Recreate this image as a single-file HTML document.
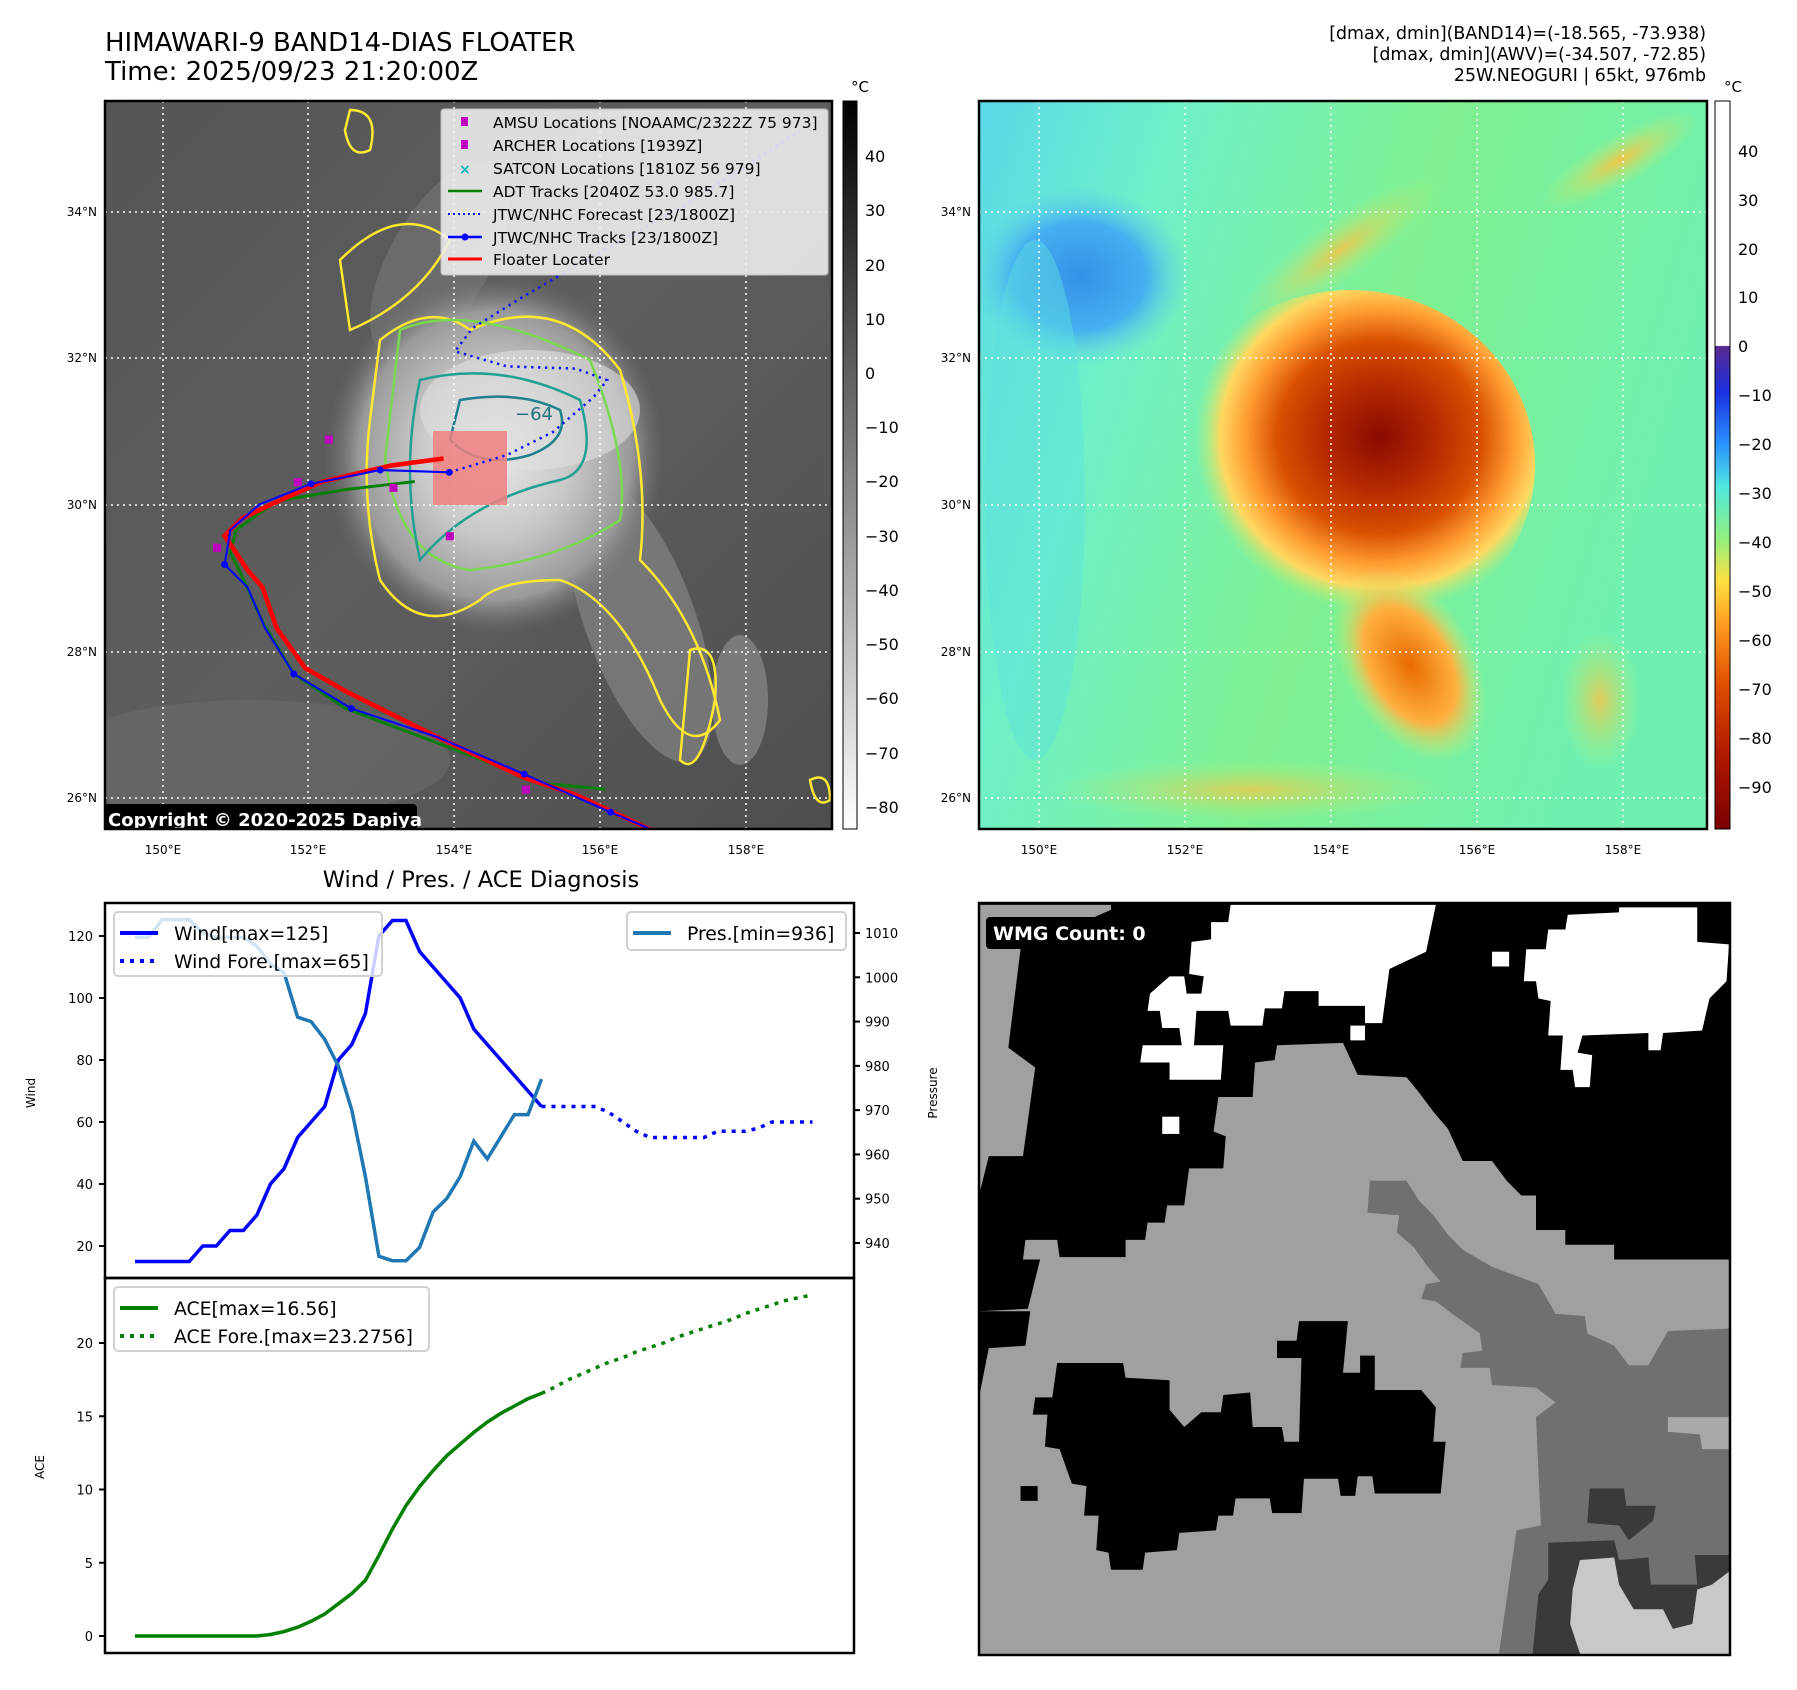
<!DOCTYPE html>
<html><head><meta charset="utf-8"><style>
html,body{margin:0;padding:0;background:#fff;}
svg{display:block;font-family:"DejaVu Sans","Liberation Sans",sans-serif;}
</style></head><body>
<svg id="fig" xmlns="http://www.w3.org/2000/svg" width="1797" height="1690" viewBox="0 0 1797 1690">
<defs>
<clipPath id="clipL"><rect x="105" y="101" width="727" height="728"/></clipPath>
<clipPath id="clipR"><rect x="979" y="101" width="728" height="728"/></clipPath>
<clipPath id="clipB"><rect x="979" y="903" width="751" height="752"/></clipPath>
<linearGradient id="bgL" x1="0" y1="0" x2="1" y2="1"><stop offset="0" stop-color="#555"/><stop offset="0.5" stop-color="#5e5e5e"/><stop offset="1" stop-color="#4e4e4e"/></linearGradient>
<radialGradient id="stormL" cx="0.5" cy="0.5" r="0.5"><stop offset="0" stop-color="#e8e8e8"/><stop offset="0.45" stop-color="#c8c8c8"/><stop offset="0.8" stop-color="#9a9a9a"/><stop offset="1" stop-color="#707070" stop-opacity="0"/></radialGradient>
<linearGradient id="cbL" x1="0" y1="0" x2="0" y2="1"><stop offset="0" stop-color="#000"/><stop offset="1" stop-color="#fff"/></linearGradient>
<linearGradient id="cbR" x1="0" y1="0" x2="0" y2="1">
<stop offset="0" stop-color="#fff"/><stop offset="0.336" stop-color="#fff"/>
<stop offset="0.337" stop-color="#5a2a90"/><stop offset="0.40" stop-color="#1a30e0"/><stop offset="0.47" stop-color="#2a90ff"/>
<stop offset="0.53" stop-color="#50e8e0"/><stop offset="0.60" stop-color="#90f080"/><stop offset="0.66" stop-color="#ffe040"/>
<stop offset="0.72" stop-color="#ff9a20"/><stop offset="0.80" stop-color="#e05000"/><stop offset="0.90" stop-color="#b01800"/><stop offset="1" stop-color="#7a0000"/></linearGradient>
<linearGradient id="bgR" x1="0" y1="0" x2="1" y2="0.3"><stop offset="0" stop-color="#5ad8e8"/><stop offset="0.25" stop-color="#6ef0c8"/><stop offset="0.6" stop-color="#80f090"/><stop offset="1" stop-color="#70f0b0"/></linearGradient>
<radialGradient id="blueR" cx="0.5" cy="0.5" r="0.5"><stop offset="0" stop-color="#3590e8"/><stop offset="0.6" stop-color="#45b0f0"/><stop offset="1" stop-color="#60d8e8" stop-opacity="0"/></radialGradient>
<radialGradient id="stormR" cx="0.58" cy="0.42" r="0.5"><stop offset="0" stop-color="#8a0a00"/><stop offset="0.3" stop-color="#b52a00"/><stop offset="0.55" stop-color="#d85000"/><stop offset="0.72" stop-color="#ff9a30"/><stop offset="0.86" stop-color="#ffd860"/><stop offset="1" stop-color="#c0f070" stop-opacity="0"/></radialGradient>
<radialGradient id="bandR" cx="0.5" cy="0.5" r="0.5"><stop offset="0" stop-color="#e86a00"/><stop offset="0.6" stop-color="#ffb040"/><stop offset="1" stop-color="#d0f070" stop-opacity="0"/></radialGradient>
<radialGradient id="softY" cx="0.5" cy="0.5" r="0.5"><stop offset="0" stop-color="#ffc040"/><stop offset="1" stop-color="#c0f070" stop-opacity="0"/></radialGradient>
</defs>

<text x="105" y="51" font-size="26">HIMAWARI-9 BAND14-DIAS FLOATER</text>
<text x="105" y="80" font-size="26">Time: 2025/09/23 21:20:00Z</text>
<g font-size="17.4" text-anchor="end">
<text x="1706" y="39">[dmax, dmin](BAND14)=(-18.565, -73.938)</text>
<text x="1706" y="60">[dmax, dmin](AWV)=(-34.507, -72.85)</text>
<text x="1706" y="81">25W.NEOGURI | 65kt, 976mb</text>
</g>

<!-- Left IR map -->
<g clip-path="url(#clipL)">
<rect x="105" y="101" width="727" height="728" fill="url(#bgL)"/>
<ellipse cx="250" cy="760" rx="200" ry="60" fill="#6a6a6a" opacity="0.6"/>
<ellipse cx="440" cy="260" rx="50" ry="110" fill="#777" opacity="0.6" transform="rotate(30 440 260)"/>
<ellipse cx="640" cy="620" rx="55" ry="150" fill="#8c8c8c" opacity="0.6" transform="rotate(-20 640 620)"/>
<ellipse cx="495" cy="455" rx="170" ry="180" fill="url(#stormL)"/>
<ellipse cx="530" cy="410" rx="110" ry="60" fill="#e0e0e0" opacity="0.6"/>
<ellipse cx="740" cy="700" rx="28" ry="65" fill="#8a8a8a" opacity="0.7"/>
<g fill="none" stroke-width="2.5">
<path d="M380,340 Q430,300 470,330 Q560,290 620,370 Q650,470 640,560 Q700,620 720,720 Q690,760 660,700 Q620,600 560,580 Q500,580 480,600 Q420,640 380,580 Q360,500 370,420 Z" stroke="#ffe830"/>
<path d="M400,330 Q470,300 590,360 Q630,460 620,520 Q560,560 470,570 Q400,560 385,460 Z" stroke="#7ad850"/>
<path d="M420,380 Q500,360 580,400 Q600,470 560,480 Q470,500 420,560 Q400,470 420,380 Z" stroke="#20a090"/>
<path d="M460,400 Q520,390 560,410 Q570,440 530,455 Q480,470 450,440 Z" stroke="#208090"/>
<path d="M340,260 Q400,200 450,240 Q420,300 350,330 Z" stroke="#ffe830"/>
<path d="M690,650 Q720,640 715,700 Q700,780 680,760 Z" stroke="#ffe830"/>
<path d="M810,780 Q830,770 830,800 Q815,810 810,780 Z" stroke="#ffe830"/>
<path d="M350,110 Q380,110 370,150 Q350,160 345,130 Z" stroke="#ffe830"/>
</g>
<text x="515" y="420" font-size="18" fill="#207080">−64</text>
<g stroke="#fff" stroke-width="1.5" stroke-dasharray="2,4">
<line x1="163" y1="101" x2="163" y2="829"/><line x1="308" y1="101" x2="308" y2="829"/><line x1="454" y1="101" x2="454" y2="829"/><line x1="600" y1="101" x2="600" y2="829"/><line x1="746" y1="101" x2="746" y2="829"/>
<line x1="105" y1="212" x2="832" y2="212"/><line x1="105" y1="358" x2="832" y2="358"/><line x1="105" y1="505" x2="832" y2="505"/><line x1="105" y1="652" x2="832" y2="652"/><line x1="105" y1="798" x2="832" y2="798"/>
</g>
<rect x="433" y="431" width="74" height="74" fill="#f08080" opacity="0.85"/>
<g transform="scale(1.152)" fill="none">
<polyline points="390,410 440,395 480,375 515,345 527,330 500,320 440,318 395,305 410,285 450,260 510,225 600,175 700,110" stroke="#1010ff" stroke-width="2.2" stroke-dasharray="2,4"/>
<polyline points="525,685 470,680 440,668 380,645 300,615 255,585 228,540 210,500 200,480 205,460 240,435 300,425 360,418" stroke="#008000" stroke-width="2.5"/>
<polyline points="575,725 500,690 455,675 380,640 330,615 300,600 265,580 240,545 228,510 215,495 195,465 210,450 235,438 280,418 340,404 385,398" stroke="#ff0000" stroke-width="4"/>
<polyline points="570,722 530,705 455,672 380,640 305,615 255,585 230,545 215,510 195,490 200,460 225,438 270,420 330,408 390,410" stroke="#0000ff" stroke-width="1.8"/>
<g fill="#0000ff"><circle cx="530" cy="705" r="3"/><circle cx="455" cy="672" r="3"/><circle cx="305" cy="615" r="3"/><circle cx="255" cy="585" r="3"/><circle cx="195" cy="490" r="3"/><circle cx="270" cy="420" r="3"/><circle cx="330" cy="408" r="3"/><circle cx="390" cy="410" r="3"/></g>
<g fill="#c000c0"><rect x="282" y="378" width="7" height="7"/><rect x="387" y="462" width="7" height="7"/><rect x="185" y="472" width="7" height="7"/><rect x="255" y="415" width="7" height="7"/><rect x="338" y="420" width="7" height="7"/><rect x="453" y="682" width="7" height="7"/></g>
</g>
<g><rect x="103" y="804" width="314" height="28" rx="4" fill="#000"/><text x="108" y="826" font-size="18" font-weight="bold" fill="#fff">Copyright © 2020-2025 Dapiya</text></g>
</g>
<rect x="105" y="101" width="727" height="728" fill="none" stroke="#000" stroke-width="2.5"/>
<g font-size="15.5">
<rect x="441" y="109" width="387" height="166" rx="3" fill="#f0f0f0" opacity="0.88" stroke="#ccc"/>
<rect x="461" y="117" width="7" height="9" fill="#c000c0"/><text x="493" y="128">AMSU Locations [NOAAMC/2322Z 75 973]</text>
<rect x="461" y="140" width="7" height="9" fill="#c000c0"/><text x="493" y="151">ARCHER Locations [1939Z]</text>
<text x="459" y="174" fill="#00b8b8" font-weight="bold" font-size="14">×</text><text x="493" y="174">SATCON Locations [1810Z 56 979]</text>
<line x1="448" y1="191" x2="482" y2="191" stroke="#008000" stroke-width="2.5"/><text x="493" y="197">ADT Tracks [2040Z 53.0 985.7]</text>
<line x1="448" y1="214" x2="482" y2="214" stroke="#0000ff" stroke-width="2" stroke-dasharray="2,3"/><text x="493" y="220">JTWC/NHC Forecast [23/1800Z]</text>
<line x1="448" y1="237" x2="482" y2="237" stroke="#0000ff" stroke-width="2.5"/><circle cx="465" cy="237" r="3.5" fill="#0000ff"/><text x="493" y="243">JTWC/NHC Tracks [23/1800Z]</text>
<line x1="448" y1="259" x2="482" y2="259" stroke="#ff0000" stroke-width="3"/><text x="493" y="265">Floater Locater</text>
</g>
<g font-size="12" fill="#000">
<g text-anchor="end"><text x="97" y="216">34°N</text><text x="97" y="362">32°N</text><text x="97" y="509">30°N</text><text x="97" y="656">28°N</text><text x="97" y="802">26°N</text>
<text x="971" y="216">34°N</text><text x="971" y="362">32°N</text><text x="971" y="509">30°N</text><text x="971" y="656">28°N</text><text x="971" y="802">26°N</text></g>
<g text-anchor="middle"><text x="163" y="854">150°E</text><text x="308" y="854">152°E</text><text x="454" y="854">154°E</text><text x="600" y="854">156°E</text><text x="746" y="854">158°E</text>
<text x="1039" y="854">150°E</text><text x="1185" y="854">152°E</text><text x="1331" y="854">154°E</text><text x="1477" y="854">156°E</text><text x="1623" y="854">158°E</text></g>
</g>
<g>
<rect x="843" y="101" width="14" height="728" fill="url(#cbL)" stroke="#000" stroke-width="1"/>
<text x="851" y="92" font-size="15">°C</text>
<g font-size="16">
<text x="865" y="162">40</text><text x="865" y="216">30</text><text x="865" y="271">20</text><text x="865" y="325">10</text><text x="865" y="379">0</text><text x="865" y="433">−10</text><text x="865" y="487">−20</text><text x="865" y="542">−30</text><text x="865" y="596">−40</text><text x="865" y="650">−50</text><text x="865" y="704">−60</text><text x="865" y="759">−70</text><text x="865" y="813">−80</text>
</g></g>

<!-- Right AWV map -->
<g clip-path="url(#clipR)">
<rect x="979" y="101" width="728" height="728" fill="url(#bgR)"/>
<ellipse cx="1080" cy="276" rx="110" ry="90" fill="url(#blueR)"/>
<ellipse cx="1035" cy="500" rx="50" ry="260" fill="#5ee0e0" opacity="0.45"/>
<ellipse cx="1340" cy="250" rx="120" ry="30" fill="url(#softY)" opacity="0.8" transform="rotate(-35 1340 250)"/>
<ellipse cx="1620" cy="160" rx="90" ry="25" fill="url(#softY)" opacity="0.9" transform="rotate(-30 1620 160)"/>
<ellipse cx="1350" cy="465" rx="185" ry="175" fill="url(#stormR)"/>
<ellipse cx="1410" cy="665" rx="65" ry="105" fill="url(#bandR)" transform="rotate(-30 1410 665)"/>
<ellipse cx="1250" cy="790" rx="200" ry="30" fill="url(#softY)" opacity="0.7"/>
<ellipse cx="1600" cy="700" rx="40" ry="70" fill="url(#softY)" opacity="0.8"/>
<g stroke="#fff" stroke-width="1.5" stroke-dasharray="2,4">
<line x1="1039" y1="101" x2="1039" y2="829"/><line x1="1185" y1="101" x2="1185" y2="829"/><line x1="1331" y1="101" x2="1331" y2="829"/><line x1="1477" y1="101" x2="1477" y2="829"/><line x1="1623" y1="101" x2="1623" y2="829"/>
<line x1="979" y1="212" x2="1707" y2="212"/><line x1="979" y1="358" x2="1707" y2="358"/><line x1="979" y1="505" x2="1707" y2="505"/><line x1="979" y1="652" x2="1707" y2="652"/><line x1="979" y1="798" x2="1707" y2="798"/>
</g></g>
<rect x="979" y="101" width="728" height="728" fill="none" stroke="#000" stroke-width="2.5"/>
<g>
<rect x="1715" y="101" width="15" height="728" fill="url(#cbR)" stroke="#000" stroke-width="1"/>
<text x="1724" y="92" font-size="15">°C</text>
<g font-size="16">
<text x="1738" y="157">40</text><text x="1738" y="206">30</text><text x="1738" y="255">20</text><text x="1738" y="303">10</text><text x="1738" y="352">0</text><text x="1738" y="401">−10</text><text x="1738" y="450">−20</text><text x="1738" y="499">−30</text><text x="1738" y="548">−40</text><text x="1738" y="597">−50</text><text x="1738" y="646">−60</text><text x="1738" y="695">−70</text><text x="1738" y="744">−80</text><text x="1738" y="793">−90</text>
</g></g>

<!-- Bottom-right WMG map -->
<g clip-path="url(#clipB)">
<rect x="979" y="903" width="751" height="752" fill="#a0a0a0"/>
<g transform="translate(979,900) scale(0.4886,0.4925)">
<polygon fill="#000" points="0,0 1540,0 1540,730 1300,730 1300,700 1200,700 1200,670 1140,670 1140,600 1110,600 1080,570 1050,530 990,530 960,465 930,430 900,390 875,360 775,355 745,290 610,295 605,325 565,330 560,400 490,400 480,470 505,480 500,545 430,545 420,620 385,620 380,655 345,655 340,690 300,690 300,725 165,725 160,690 95,690 90,730 0,730"/>
<polygon fill="#a0a0a0" points="0,10 270,10 270,20 85,100 60,300 115,340 90,520 20,520 0,600"/>
<polygon fill="#000" points="0,730 125,730 100,830 0,835"/>
<polygon fill="#000" points="0,835 105,835 95,905 20,910 0,1010"/>
<polygon fill="#fff" points="515,10 935,10 915,105 840,140 825,250 790,250 790,215 695,215 695,185 625,185 620,220 585,220 580,255 515,255 510,225 445,225 440,295 500,295 495,365 390,365 390,330 330,330 335,295 415,295 410,260 375,260 370,225 345,225 350,190 390,155 420,155 425,190 455,190 460,155 430,150 435,85 475,80 475,45 510,45"/>
<polygon fill="#fff" points="1310,15 1470,15 1470,85 1535,90 1530,165 1495,200 1480,265 1400,270 1395,305 1370,305 1370,270 1235,275 1225,310 1255,315 1250,380 1220,380 1215,345 1190,345 1195,275 1165,275 1170,205 1145,200 1140,165 1115,165 1120,100 1160,100 1165,60 1200,60 1205,30 1310,25"/>
<rect x="1050" y="105" width="35" height="30" fill="#fff"/><rect x="375" y="440" width="35" height="35" fill="#fff"/><rect x="760" y="255" width="30" height="30" fill="#fff"/>
<polygon fill="#000" points="160,940 295,940 300,970 390,975 390,1035 420,1070 455,1040 495,1040 500,1005 555,1000 560,1070 620,1070 625,1100 655,1100 660,930 610,930 610,895 650,895 655,855 755,855 745,960 780,960 780,925 810,925 810,995 905,995 935,1030 930,1100 955,1100 945,1205 810,1205 805,1170 775,1170 770,1210 740,1210 735,1175 665,1175 660,1245 600,1245 595,1215 525,1215 520,1250 490,1250 485,1280 410,1285 405,1320 340,1325 335,1360 270,1360 265,1325 240,1320 245,1250 215,1250 220,1190 190,1185 165,1115 135,1110 140,1045 110,1045 115,1010 150,1010"/>
<rect x="85" y="1190" width="35" height="30" fill="#000"/>
<polygon fill="#707070" points="800,570 875,570 900,610 930,640 960,680 990,710 1050,745 1145,780 1180,840 1240,845 1245,880 1300,905 1330,945 1370,945 1410,875 1540,870 1540,1560 1060,1560 1100,1280 1150,1270 1140,1050 1180,1020 1140,990 1050,985 1045,950 985,950 990,920 1030,915 1025,880 975,845 935,815 905,810 915,780 945,775 915,740 890,705 855,675 860,640 795,635"/>
<polygon fill="#a8a8a8" points="1410,1050 1540,1050 1540,1115 1480,1115 1475,1085 1410,1080"/>
<polygon fill="#3a3a3a" points="1250,1195 1320,1195 1325,1230 1385,1230 1380,1260 1330,1300 1310,1270 1245,1265"/>
<polygon fill="#3a3a3a" points="1165,1305 1300,1300 1310,1340 1370,1335 1375,1390 1470,1390 1465,1330 1540,1330 1540,1560 1130,1560 1145,1410 1165,1380"/>
<polygon fill="#c8c8c8" points="1230,1340 1300,1335 1310,1390 1340,1440 1400,1440 1420,1480 1460,1470 1470,1400 1500,1390 1540,1360 1540,1560 1240,1560 1210,1470 1215,1400"/>
</g>
<rect x="986" y="917" width="183" height="32" rx="4" fill="#000"/>
<text x="993" y="940" font-size="19" font-weight="bold" fill="#fff">WMG Count: 0</text>
</g>
<rect x="979" y="903" width="751" height="752" fill="none" stroke="#000" stroke-width="2.5"/>

<text x="481" y="887" font-size="22.5" text-anchor="middle">Wind / Pres. / ACE Diagnosis</text>
<g id="chart"></g>
</svg>
<script>
const windObs = [15,15,15,15,15,20,20,25,25,30,40,45,55,60,65,80,85,95,120,125,125,115,110,105,100,90,85,80,75,70,65];
const windFore = [65,65,65,65,65,63,60,57,55,55,55,55,55,57,57,57,58,60,60,60,60];
const presObs = [1009,1009,1013,1013,1013,1010,1009,1009,1009,1007,1003,1001,991,990,986,980,970,955,937,936,936,939,947,950,955,963,959,964,969,969,977];
const aceObs = [0,0,0,0,0,0,0,0,0,0,0.1,0.3,0.6,1.0,1.5,2.2,2.9,3.8,5.5,7.3,8.9,10.2,11.3,12.3,13.1,13.9,14.6,15.2,15.7,16.2,16.56];
const aceFore = [16.56,17.0,17.5,17.9,18.3,18.7,19.0,19.4,19.7,20.0,20.4,20.7,21.0,21.3,21.6,22.0,22.3,22.6,22.9,23.1,23.28];
const windTicks = [20,40,60,80,100,120];
const presTicks = [940,950,960,970,980,990,1000,1010];
const aceTicks = [0,5,10,15,20];

const NS='http://www.w3.org/2000/svg';
const chart=document.getElementById('chart');
function mk(tag,attrs,parent){const e=document.createElementNS(NS,tag);for(const k in attrs)e.setAttribute(k,attrs[k]);(parent||chart).appendChild(e);return e;}
const RX=854;
const xS=i=>135+i*13.55;
const yW=v=>1246-(v-20)*3.1;
const yP=p=>1243-(p-940)*(310/70);
const yA=v=>1636-v*14.65;
function pts(arr,off,yf){return arr.map((v,i)=>xS(i+off).toFixed(1)+','+yf(v).toFixed(1)).join(' ');}

let fr=mk('rect',{x:105,y:903,width:RX-105,height:375,fill:'none',stroke:'#000','stroke-width':2.5});


let fr2=mk('rect',{x:105,y:1278,width:RX-105,height:375,fill:'none',stroke:'#000','stroke-width':2.5});



windTicks.forEach(t=>{
  const g=mk('g',{});
  
  
  mk('line',{x1:99,x2:105,y1:yW(t),y2:yW(t),stroke:'#000','stroke-width':2},g);
  const tx=mk('text',{x:93,y:yW(t)+5,'font-size':13,'text-anchor':'end'},g);tx.textContent=t;
});
presTicks.forEach(t=>{
  const g=mk('g',{});
  
  
  mk('line',{x1:RX,x2:RX+6,y1:yP(t),y2:yP(t),stroke:'#000','stroke-width':2},g);
  const tx=mk('text',{x:RX+11,y:yP(t)+5,'font-size':13},g);tx.textContent=t;
});
aceTicks.forEach(t=>{
  const g=mk('g',{});
  
  
  mk('line',{x1:99,x2:105,y1:yA(t),y2:yA(t),stroke:'#000','stroke-width':2},g);
  const tx=mk('text',{x:93,y:yA(t)+5,'font-size':13,'text-anchor':'end'},g);tx.textContent=t;
});
let t1=mk('text',{x:0,y:0,'font-size':12,transform:'translate(35,1093) rotate(-90)','text-anchor':'middle'});t1.textContent='Wind';


let t2=mk('text',{x:0,y:0,'font-size':12,transform:'translate(937,1093) rotate(-90)','text-anchor':'middle'});t2.textContent='Pressure';


let t3=mk('text',{x:0,y:0,'font-size':12,transform:'translate(44,1467) rotate(-90)','text-anchor':'middle'});t3.textContent='ACE';



let l1=mk('polyline',{points:pts(windObs,0,yW),fill:'none',stroke:'#0000ff','stroke-width':3.5});


let l2=mk('polyline',{points:pts(windFore,30,yW),fill:'none',stroke:'#0000ff','stroke-width':3.5,'stroke-dasharray':'4,6'});


let l3=mk('polyline',{points:pts(presObs,0,yP),fill:'none',stroke:'#1f77b4','stroke-width':3.5});


let l4=mk('polyline',{points:pts(aceObs,0,yA),fill:'none',stroke:'#008000','stroke-width':3.5});


let l5=mk('polyline',{points:pts(aceFore,30,yA),fill:'none',stroke:'#008000','stroke-width':3.5,'stroke-dasharray':'4,6'});



function legend(name,x,y,w,h,items){
  const g=mk('g',{});
  
  
  mk('rect',{x:x,y:y,width:w,height:h,rx:4,fill:'#fff','fill-opacity':0.8,stroke:'#d0d0d0','stroke-width':2},g);
  items.forEach((it,k)=>{
    const yy=y+21+k*28;
    const a={x1:x+6,x2:x+44,y1:yy,y2:yy,stroke:it.c,'stroke-width':4};
    if(it.d)a['stroke-dasharray']='4,6';
    mk('line',a,g);
    const tx=mk('text',{x:x+60,y:yy+7,'font-size':18.8},g);tx.textContent=it.t;
  });
}
legend('wind-legend',114,912,268,64,[{c:'#0000ff',t:'Wind[max=125]'},{c:'#0000ff',t:'Wind Fore.[max=65]',d:1}]);
legend('pressure-legend',627,912,219,38,[{c:'#1f77b4',t:'Pres.[min=936]'}]);
legend('ace-legend',114,1287,315,64,[{c:'#008000',t:'ACE[max=16.56]'},{c:'#008000',t:'ACE Fore.[max=23.2756]',d:1}]);
</script>
</body></html>
